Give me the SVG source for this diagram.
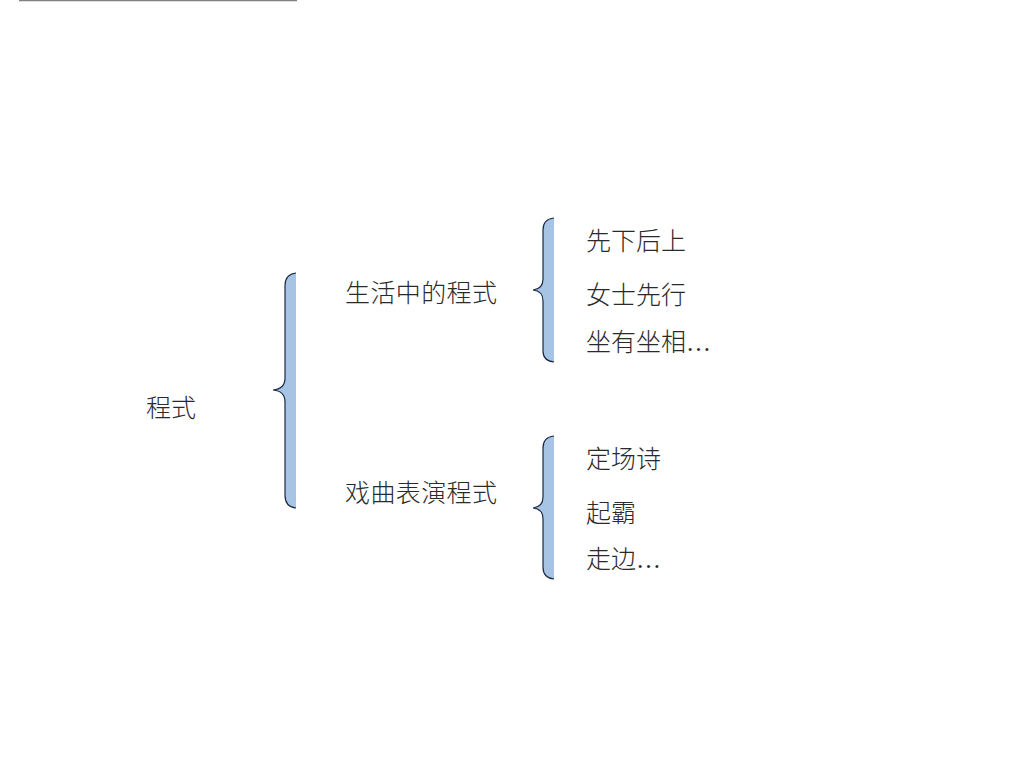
<svg xmlns="http://www.w3.org/2000/svg" width="1024" height="768" viewBox="0 0 1024 768">
<style>
.t{font-family:"Liberation Serif","Noto Sans CJK SC",serif;font-size:25px;font-weight:300;fill:#2a2a2a;}
.bf{fill:#a7c4e5;stroke:none;}
.bs{fill:none;stroke:#1b2a44;stroke-width:1.2;}
</style>
<rect width="1024" height="768" fill="#fff"/>
<line x1="19" y1="0.5" x2="297" y2="0.5" stroke="#808080" stroke-width="1.5"/>
<g id="connectors">
<g id="brace1">
<path class="bf" d="M296,273 Q285,274 285,286 L285,378 Q285,389 273,390 Q285,391 285,402 L285,495 Q285,507 296,508 Z"/>
<path class="bs" d="M296,273 Q285,274 285,286 L285,378 Q285,389 273,390 Q285,391 285,402 L285,495 Q285,507 296,508"/>
</g>
<g id="brace2">
<path class="bf" d="M554,218 Q543,219 543,230 L543,279 Q543,289 533,290 Q543,291 543,301 L543,351 Q543,361 554,362 Z"/>
<path class="bs" d="M554,218 Q543,219 543,230 L543,279 Q543,289 533,290 Q543,291 543,301 L543,351 Q543,361 554,362"/>
</g>
<g id="brace3">
<path class="bf" d="M554,436 Q543,437 543,448 L543,497 Q543,507 533,508 Q543,509 543,519 L543,567 Q543,578 554,579 Z"/>
<path class="bs" d="M554,436 Q543,437 543,448 L543,497 Q543,507 533,508 Q543,509 543,519 L543,567 Q543,578 554,579"/>
</g>
</g>
<g id="n-root"><text class="t" x="146" y="417">程式</text></g>
<g id="n-life"><text class="t" x="345" y="302" textLength="152">生活中的程式</text></g>
<g id="n-opera"><text class="t" x="345" y="502" textLength="152">戏曲表演程式</text></g>
<g id="n-l1"><text class="t" x="586" y="250">先下后上</text></g>
<g id="n-l2"><text class="t" x="586" y="304">女士先行</text></g>
<g id="n-l3"><text class="t" x="586" y="351">坐有坐相…</text></g>
<g id="n-o1"><text class="t" x="586" y="468">定场诗</text></g>
<g id="n-o2"><text class="t" x="586" y="522">起霸</text></g>
<g id="n-o3"><text class="t" x="586" y="568">走边…</text></g>
</svg>
